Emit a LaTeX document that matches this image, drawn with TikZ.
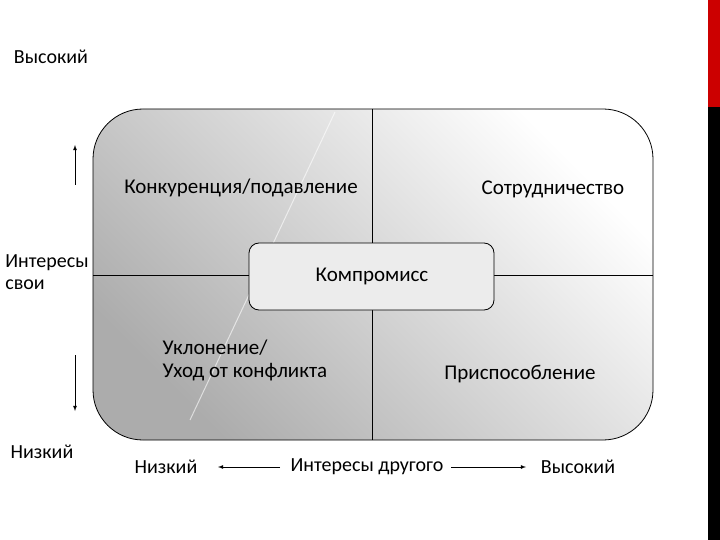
\documentclass[tikz,border=0pt]{standalone}
\usepackage{fontspec}
\setmainfont{Carlito}
\begin{document}
\begin{tikzpicture}[x=1pt,y=-1pt,
  lab/.style={font=\fontsize{21}{23}\selectfont, align=left, inner sep=1pt},
  side/.style={font=\fontsize{20}{22}\selectfont, align=left, inner sep=1pt},
  arr/.style={-latex, line width=0.8pt}]
\useasboundingbox (0,0) rectangle (720,540);
\fill[white] (0,0) rectangle (720,540);
\fill[red!80!black] (708,0) rectangle (720,107);
\fill[black] (708,107) rectangle (720,540);
\path[draw=black, line width=0.8pt, rounded corners=50pt, shading=axis, left color=gray!65, right color=white, shading angle=135] (93,109) rectangle (653,440);
\draw[white, opacity=0.6, line width=1pt] (335,112) -- (190,420);
\draw[line width=0.8pt] (372,109) -- (372,440);
\draw[line width=0.8pt] (93,275) -- (653,275);
\node[draw=black, line width=0.8pt, rounded corners=10pt, fill=gray!15, minimum width=245pt, minimum height=67pt] (c) at (371.5,276.5) {};
\node[lab] (comp) at (372,276) {Компромисс};
\node[lab] (q1) at (241,188) {Конкуренция/подавление};
\node[lab] (q2) at (553,189) {Сотрудничество};
\node[lab] (q3) at (245,360) {Уклонение/\\Уход от конфликта};
\node[lab] (q4) at (520,374) {Приспособление};
\node[side] (hi) at (51,57) {Высокий};
\node[side] (mid) at (47,272) {Интересы\\свои};
\node[side] (lo) at (42,452) {Низкий};
\node[side] (blo) at (166,467) {Низкий};
\node[side] (bmid) at (367,467) {Интересы другого};
\node[side] (bhi) at (578,467) {Высокий};
\coordinate (u1) at (75,185); \coordinate (u2) at (75,145);
\coordinate (d1) at (75,355); \coordinate (d2) at (75,411);
\coordinate (l1) at (280,467); \coordinate (l2) at (218,467);
\coordinate (r1) at (451,467); \coordinate (r2) at (526,467);
\draw[arr] (u1) -- (u2);
\draw[arr] (d1) -- (d2);
\draw[arr] (l1) -- (l2);
\draw[arr] (r1) -- (r2);
\end{tikzpicture}
\end{document}
